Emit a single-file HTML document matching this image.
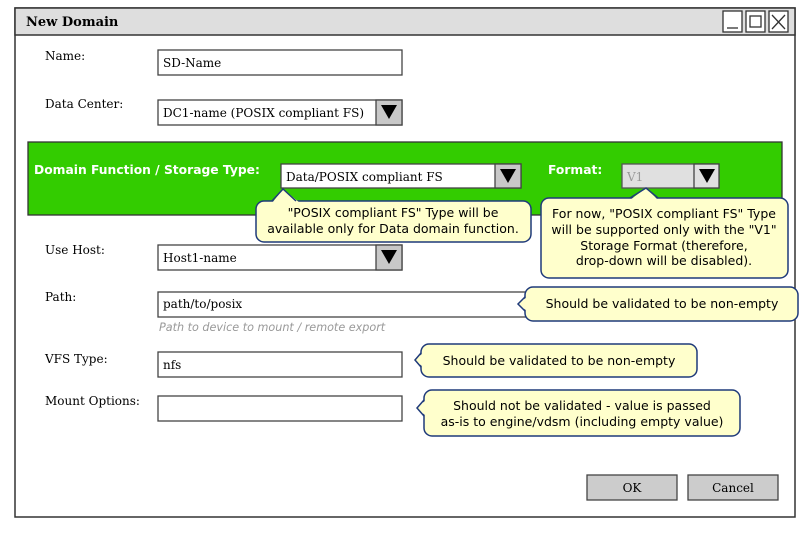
<!DOCTYPE html>
<html><head><meta charset="utf-8"><style>
html,body{margin:0;padding:0;background:#fff;width:800px;height:540px;overflow:hidden}
svg{display:block}
.s{font-family:"DejaVu Serif","Liberation Serif",serif;font-size:12px;fill:#000}
.n{font-family:"DejaVu Sans","Liberation Sans",sans-serif;font-size:12.5px;fill:#000}
</style></head><body>
<svg width="800" height="540" viewBox="0 0 800 540" xmlns="http://www.w3.org/2000/svg">
<rect x="15" y="8" width="780" height="509" fill="#fff" stroke="#333" stroke-width="1.5"/>
<rect x="15" y="8" width="780" height="27" fill="#dedede" stroke="#333" stroke-width="1.5"/>
<text x="26" y="26" class="s" style="font-weight:bold;font-size:13px">New Domain</text>
<g fill="#fff" stroke="#333" stroke-width="1.3">
<rect x="723" y="11" width="19" height="21"/><rect x="746" y="11" width="19" height="21"/><rect x="769" y="11" width="19" height="21"/>
</g>
<line x1="727" y1="28" x2="738" y2="28" stroke="#333" stroke-width="1.3"/>
<rect x="750" y="16" width="11" height="11" fill="none" stroke="#333" stroke-width="1.3"/>
<path d="M772 15L785 29M785 15L772 29" stroke="#333" stroke-width="1.3"/>

<g fill="#fff" stroke="#444" stroke-width="1.3">
<rect x="158" y="50" width="244" height="25"/>
<rect x="158" y="100" width="244" height="25"/>
<rect x="158" y="245" width="244" height="25"/>
<rect x="158" y="292" width="372" height="25"/>
<rect x="158" y="352" width="244" height="25"/>
<rect x="158" y="396" width="244" height="25"/>
</g>
<g fill="#c8c8c8" stroke="#444" stroke-width="1.3">
<rect x="376" y="100" width="26" height="25"/><rect x="376" y="245" width="26" height="25"/>
</g>
<path d="M381 105h16l-8 14z M381 250h16l-8 14z" fill="#000"/>
<text x="45" y="60" class="s">Name:</text>
<text x="45" y="108" class="s">Data Center:</text>
<text x="45" y="254" class="s">Use Host:</text>
<text x="45" y="301" class="s">Path:</text>
<text x="45" y="363" class="s">VFS Type:</text>
<text x="45" y="405" class="s">Mount Options:</text>
<text x="163" y="67" class="s">SD-Name</text>
<text x="163" y="117" class="s">DC1-name (POSIX compliant FS)</text>
<text x="163" y="262" class="s">Host1-name</text>
<text x="163" y="308" class="s">path/to/posix</text>
<text x="163" y="369" class="s">nfs</text>
<text x="159" y="331" class="n" style="font-size:11.2px;font-style:italic;fill:#999">Path to device to mount / remote export</text>

<rect x="28" y="142" width="754" height="73" fill="#33cc00" stroke="#333" stroke-width="1.3"/>
<text x="34" y="174" class="n" style="fill:#fff;font-weight:bold;font-size:12.3px">Domain Function / Storage Type:</text>
<text x="548" y="174" class="n" style="fill:#fff;font-weight:bold;font-size:12.3px">Format:</text>
<rect x="281" y="164" width="240" height="24" fill="#fff" stroke="#444" stroke-width="1.3"/>
<rect x="495" y="164" width="26" height="24" fill="#c8c8c8" stroke="#444" stroke-width="1.3"/>
<path d="M500 169h16l-8 14z" fill="#000"/>
<text x="286" y="181" class="s">Data/POSIX compliant FS</text>
<rect x="622" y="164" width="97" height="24" fill="#e0e0e0" stroke="#555" stroke-width="1.3"/>
<rect x="694" y="164" width="25" height="24" fill="#e0e0e0" stroke="#444" stroke-width="1.3"/>
<path d="M699 169h16l-8 14z" fill="#000"/>
<text x="627" y="181" class="s" style="fill:#999">V1</text>

<g fill="#ffffcc" stroke="#1f3a7a" stroke-width="1.5">
<rect x="256" y="201" width="275" height="41" rx="8"/>
<rect x="541" y="198" width="247" height="80" rx="8"/>
<rect x="525" y="287" width="273" height="34" rx="8"/>
<rect x="421" y="344" width="276" height="33" rx="8"/>
<rect x="424" y="390" width="316" height="46" rx="8"/>
</g>
<g fill="#ffffcc" stroke="none">
<path d="M272 203L283 189L300 203z"/>
<path d="M630 200L646 188L658 200z"/>
<path d="M527 297L518 304L527 311z"/>
<path d="M423 353L415 360L423 367z"/>
<path d="M426 400L417 408L426 416z"/>
</g>
<g fill="none" stroke="#1f3a7a" stroke-width="1.5">
<path d="M272 201L283 189L296 201"/>
<path d="M630 198L646 188L658 198"/>
<path d="M525 297L518 304L525 311"/>
<path d="M421 353L415 360L421 367"/>
<path d="M424 400L417 408L424 416"/>
</g>
<g class="n" text-anchor="middle">
<text x="393" y="217" class="n">"POSIX compliant FS" Type will be</text>
<text x="393" y="233" class="n">available only for Data domain function.</text>
<text x="664" y="218" class="n">For now, "POSIX compliant FS" Type</text>
<text x="664" y="234" class="n">will be supported only with the "V1"</text>
<text x="664" y="250" class="n">Storage Format (therefore,</text>
<text x="664" y="265" class="n">drop-down will be disabled).</text>
<text x="662" y="308" class="n">Should be validated to be non-empty</text>
<text x="559" y="365" class="n">Should be validated to be non-empty</text>
<text x="582" y="410" class="n">Should not be validated - value is passed</text>
<text x="582" y="426" class="n">as-is to engine/vdsm (including empty value)</text>
</g>

<rect x="587" y="475" width="90" height="25" fill="#ccc" stroke="#444" stroke-width="1.3"/>
<rect x="688" y="475" width="90" height="25" fill="#ccc" stroke="#444" stroke-width="1.3"/>
<text x="632" y="492" class="s" text-anchor="middle">OK</text>
<text x="733" y="492" class="s" text-anchor="middle">Cancel</text>
</svg>
</body></html>
